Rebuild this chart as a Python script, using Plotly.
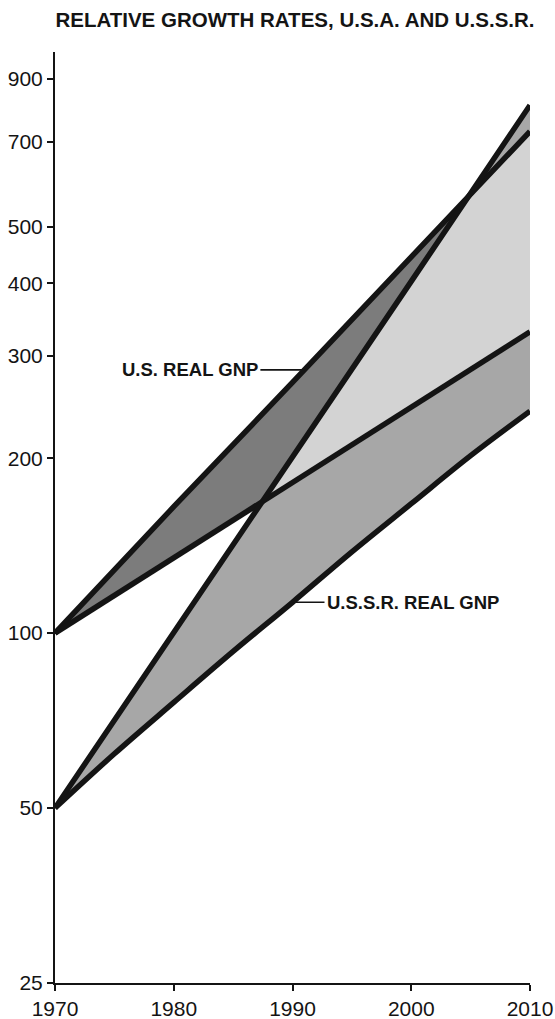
import numpy as np
import plotly.graph_objects as go

# ---- data (index, log scale) ----
years = [1970, 1980, 1990, 2000, 2010]
us_high = [100, 165, 270, 445, 730]
us_low = [100, 135, 182, 245, 330]
ussr_high = [50, 100, 201, 403, 810]

ussr_low_years = [1970, 1975, 1980, 1985, 1990, 1995, 2000, 2005, 2010]
ussr_low = [50, 62, 76, 93, 113, 138, 167, 202, 241]

y_tickvals = [25, 50, 100, 200, 300, 400, 500, 700, 900]
x_tickvals = [1970, 1980, 1990, 2000, 2010]

title_text = "RELATIVE GROWTH RATES, U.S.A. AND U.S.S.R."
us_label = "U.S. REAL GNP"
ussr_label = "U.S.S.R. REAL GNP"

# ---- styling ----
INK = "#141414"
DARK_FILL = "#7c7c7c"      # U.S. band only
MID_FILL = "#a7a7a7"       # U.S.S.R. band only
LIGHT_FILL = "#d3d3d3"     # both bands overlap
FONT = "Liberation Sans, Arial, sans-serif"

# Straight segments on a log axis are straight in log10 space, so the
# band outlines are traced on a fine year grid in log10 units.
grid = np.linspace(years[0], years[-1], 4001)


def on_grid(xs, vals):
    return np.interp(grid, xs, np.log10(vals))


uh = on_grid(years, us_high)
ul = on_grid(years, us_low)
sh = on_grid(years, ussr_high)
sl = on_grid(ussr_low_years, ussr_low)


def band_polygon(top, bottom, mask=None):
    g = grid
    if mask is not None:
        g, top, bottom = g[mask], top[mask], bottom[mask]
    xs = np.concatenate([g, g[::-1]])
    ys = 10 ** np.concatenate([top, bottom[::-1]])
    return xs, ys


fig = go.Figure()


def add_fill(xs, ys, color):
    fig.add_trace(go.Scatter(
        x=xs, y=ys, mode="lines", fill="toself", fillcolor=color,
        line=dict(width=0, color=color), hoverinfo="skip", showlegend=False,
    ))


# U.S.S.R. band, U.S. band, then the overlap on top
add_fill(*band_polygon(sh, sl), MID_FILL)
add_fill(*band_polygon(uh, ul), DARK_FILL)
overlap = ul < sh
add_fill(*band_polygon(np.minimum(uh, sh), np.maximum(ul, sl), overlap), LIGHT_FILL)

# outline curves
for xs, vals, shape in [
    (years, us_high, "linear"),
    (years, us_low, "linear"),
    (years, ussr_high, "linear"),
    (ussr_low_years, ussr_low, "spline"),
]:
    fig.add_trace(go.Scatter(
        x=xs, y=vals, mode="lines",
        line=dict(color=INK, width=5.5, shape=shape),
        cliponaxis=False, hoverinfo="skip", showlegend=False,
    ))

# leader labels
us_anchor_year = 1991
us_anchor_val = 10 ** np.interp(us_anchor_year, years, np.log10(us_high))
ussr_anchor_year = 1990
ussr_anchor_val = 10 ** np.interp(ussr_anchor_year, ussr_low_years, np.log10(ussr_low))

label_font = dict(family=FONT, size=18.5, color=INK, weight=700)
fig.add_annotation(
    x=us_anchor_year, y=np.log10(us_anchor_val), text=us_label,
    showarrow=True, arrowhead=0, arrowwidth=1.6, arrowcolor=INK,
    ax=-44, ay=0, xanchor="right", yanchor="middle", font=label_font,
)
fig.add_annotation(
    x=ussr_anchor_year, y=np.log10(ussr_anchor_val), text=ussr_label,
    showarrow=True, arrowhead=0, arrowwidth=1.6, arrowcolor=INK,
    ax=32, ay=0, xanchor="left", yanchor="middle", font=label_font,
)

tick_font = dict(family=FONT, size=21, color=INK)
fig.update_layout(
    width=555, height=1019,
    margin=dict(l=55, r=25, t=52, b=36),
    plot_bgcolor="white", paper_bgcolor="white",
    showlegend=False,
    title=dict(
        text=title_text, x=0.5315, xanchor="center", y=0.981, yanchor="middle",
        font=dict(family=FONT, size=20.5, color=INK, weight=700),
    ),
    xaxis=dict(
        range=[years[0], years[-1]], tickvals=x_tickvals,
        ticks="outside", ticklen=6, tickwidth=2, tickcolor=INK,
        showline=True, linecolor=INK, linewidth=2, automargin=False,
        ticklabelstandoff=0,
        showgrid=False, zeroline=False, tickfont=tick_font,
    ),
    yaxis=dict(
        type="log", range=[np.log10(25), 3],
        tickvals=y_tickvals, ticktext=[str(v) for v in y_tickvals],
        ticks="outside", ticklen=6, tickwidth=2, tickcolor=INK,
        showline=True, linecolor=INK, linewidth=2, automargin=False,
        showgrid=False, zeroline=False, tickfont=tick_font,
    ),
)

fig.write_html("out.html")
